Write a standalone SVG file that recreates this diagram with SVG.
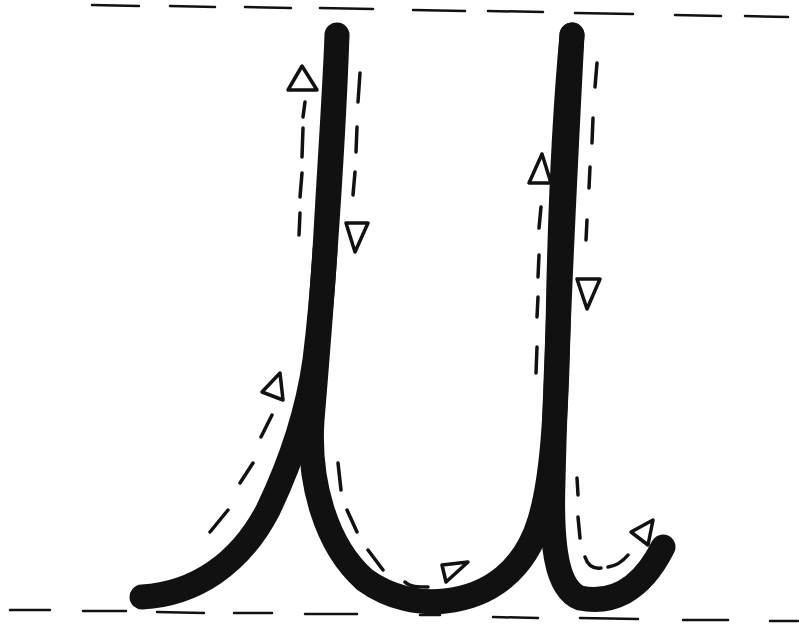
<svg xmlns="http://www.w3.org/2000/svg" width="799" height="629" viewBox="0 0 799 629">
<style>
.main{fill:none;stroke:#111;stroke-width:25;stroke-linecap:round;stroke-linejoin:round}
.dash{fill:none;stroke:#111;stroke-width:3.5;stroke-linecap:round;stroke-linejoin:round}
.rule{fill:none;stroke:#111;stroke-width:2.5;stroke-linecap:round}
.tri{fill:none;stroke:#111;stroke-width:3.5;stroke-linejoin:round}
</style>
<rect width="799" height="629" fill="#fff"/>
<g id="guide-top">
<path class="rule" d="M92 5L139 6M170 6L215 7M245 7L291 8M320 8L373 9M413 10L465 11M488 11L543 12M575 13L633 14M675 15L721 16M745 16L788 17"/>
</g>
<g id="guide-bottom">
<path class="rule" d="M10 610L50 610M83 611L126 611M157 612L204 613M234 613L272 613M305 614L357 614M420 615L440 615M493 617L538 618M580 618L638 619M683 620L728 620M770 621L798 621"/>
</g>
<g id="letter">
<path class="main" d="M142 597C195 594 240 564 268 510C292 460 308 410 315 360C320 320 322 300 325 250"/>
<path class="main" d="M325 250C330 160 335 90 337 35C333 150 322 300 312 420C308 480 325 545 365 580C390 598 420 604 445 601C490 596 525 570 540 520C552 480 556 420 558 330C560 200 566 100 572 35"/>
<path class="main" d="M572 35C566 150 556 350 553 480C551 540 555 588 580 598C610 604 640 593 663 547"/>
</g>
<g id="arrows">
<path class="dash" d="M305 102L303 117M303 128L302 157M302 173L300 197M300 213L299 235"/>
<path class="tri" d="M302 66L288 90L317 90Z"/>
<path class="dash" d="M360 73L358 102M357 127L356 152M355 172L353 195"/>
<path class="tri" d="M346 223L368 223L355 252Z"/>
<path class="dash" d="M272 415L261 437M253 463L240 483M228 510L210 532"/>
<path class="tri" d="M280 373L262 392L283 400Z"/>
<path class="dash" d="M338 463L341 490M347 510L357 532M368 550L383 570M405 582C410 587 418 587 428 587"/>
<path class="tri" d="M442 565L468 562L446 582Z"/>
<path class="dash" d="M597 63L595 87M593 118L592 143M590 167L589 188M587 220L586 240"/>
<path class="tri" d="M577 279L600 279L587 309Z"/>
<path class="dash" d="M541 207L539 228M539 255L538 277M538 297L537 317M537 347L536 373"/>
<path class="tri" d="M542 154L529 183L551 183Z"/>
<path class="dash" d="M577 478L578 495M578 517L580 538M585 557C588 566 594 569 601 568M608 567C616 566 623 561 628 555"/>
<path class="tri" d="M631 532L653 520L648 545Z"/>
</g>
</svg>
